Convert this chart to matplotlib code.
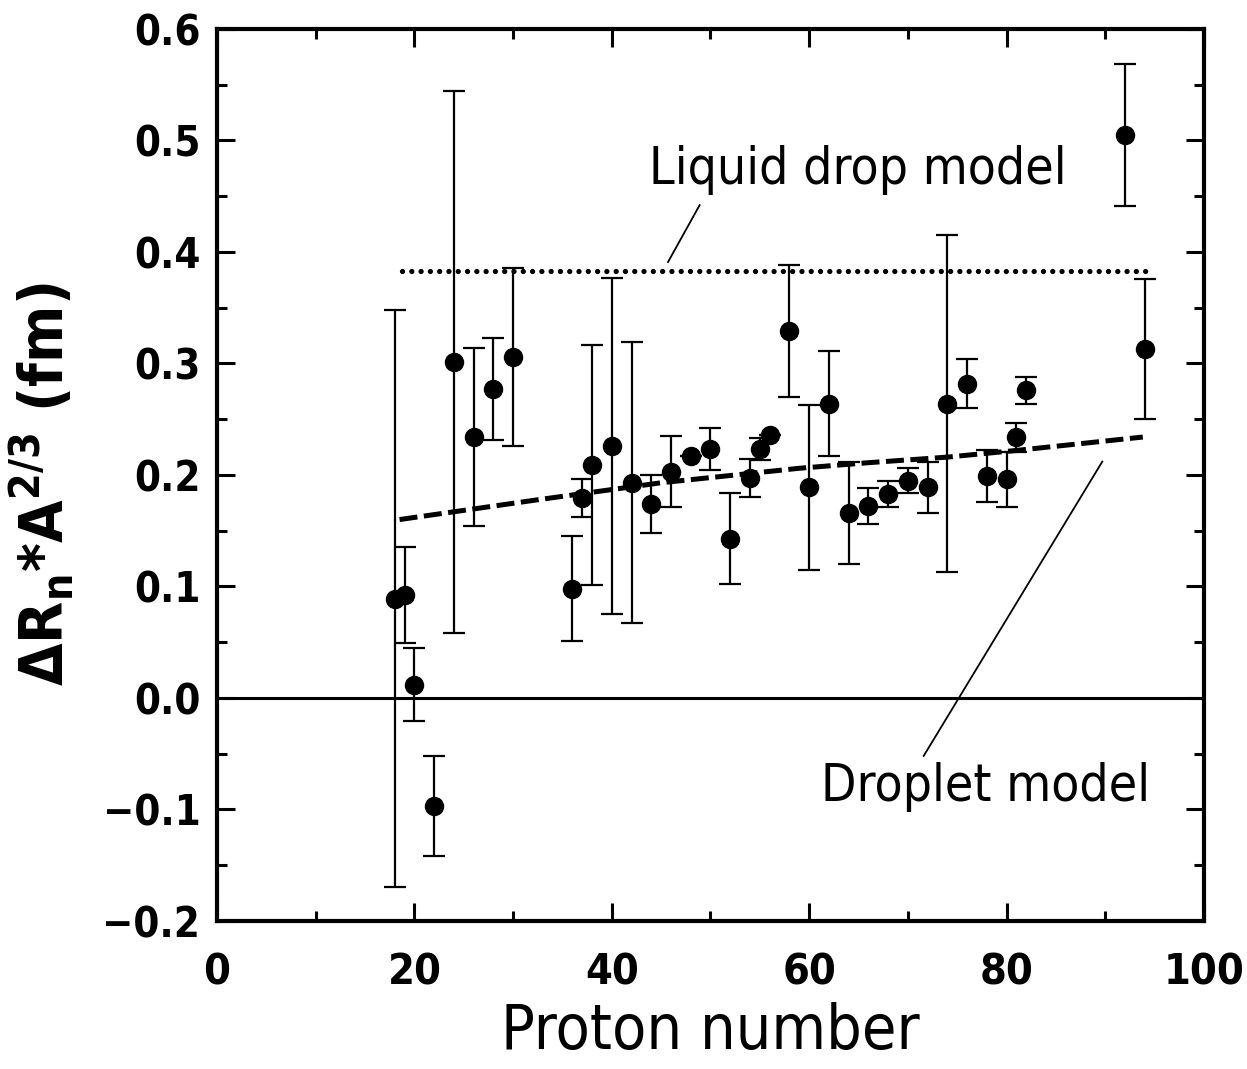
"""
Neutron skin term Delta R_n * A^(2/3) versus proton number
"""

import matplotlib

matplotlib.use("Agg")
import matplotlib.pyplot as plt
from matplotlib.ticker import MultipleLocator, FuncFormatter

plt.rcParams["font.family"] = ["DejaVu Sans"]
plt.rcParams["font.stretch"] = "condensed"
plt.rcParams["mathtext.default"] = "regular"

# measured points (proton number, value, error)
proton_number = [18, 19, 20, 22, 24, 26, 28, 30, 36, 37, 38, 40, 42, 44, 46, 48,
                 50, 52, 54, 55, 56, 58, 60, 62, 64, 66, 68, 70, 72, 74, 76, 78,
                 80, 81, 82, 92, 94]
delta_rn = [0.089, 0.092, 0.012, -0.097, 0.301, 0.234, 0.277, 0.306, 0.098, 0.179,
            0.209, 0.226, 0.193, 0.174, 0.203, 0.217, 0.223, 0.143, 0.197, 0.223,
            0.236, 0.329, 0.189, 0.264, 0.166, 0.172, 0.183, 0.195, 0.189, 0.264,
            0.282, 0.199, 0.196, 0.234, 0.276, 0.505, 0.313]
delta_err = [0.259, 0.043, 0.033, 0.045, 0.243, 0.080, 0.046, 0.080, 0.047, 0.017,
             0.108, 0.151, 0.126, 0.026, 0.032, 0.0, 0.019, 0.041, 0.017, 0.010,
             0.0, 0.059, 0.074, 0.047, 0.046, 0.016, 0.012, 0.011, 0.023, 0.151,
             0.022, 0.023, 0.025, 0.013, 0.012, 0.064, 0.063]

# model curves
liquid_z = [18.7, 94.1]
liquid_val = [0.383, 0.383]
droplet_z = [18.5, 32.7, 45, 59, 66, 74, 81, 93.8]
droplet_val = [0.160, 0.178, 0.193, 0.206, 0.211, 0.216, 0.222, 0.234]

fig = plt.figure(figsize=(12.47, 10.69), dpi=100)
axes = fig.add_axes([0.174, 0.1385, 0.7915, 0.8344])

# zero line
axes.axhline(0.0, color="black", lw=2.2, zorder=1)

# model lines
axes.plot(liquid_z, liquid_val, color="black", lw=3.8,
          ls=(0, (0.01, 1.75)), dash_capstyle="round")
axes.plot(droplet_z, droplet_val, color="black", lw=3.6,
          ls=(0, (3.6, 1.3)))

# data with error bars
axes.errorbar(proton_number, delta_rn, yerr=delta_err, fmt="o", color="black",
              ms=13, elinewidth=1.6, capsize=8, capthick=1.6, zorder=3)

# annotations
axes.text(64.9, 0.4735, "Liquid drop model", fontsize=37, ha="center", va="center")
axes.plot([48.9, 45.7], [0.442, 0.391], color="black", lw=1.3)
axes.text(77.9, -0.080, "Droplet model", fontsize=37, ha="center", va="center")
axes.plot([89.7, 71.6], [0.212, -0.052], color="black", lw=1.3)

axes.set_xlim(0, 100)
axes.set_ylim(-0.2, 0.6)
axes.xaxis.set_major_locator(MultipleLocator(20))
axes.xaxis.set_minor_locator(MultipleLocator(10))
axes.yaxis.set_major_locator(MultipleLocator(0.1))
axes.yaxis.set_minor_locator(MultipleLocator(0.05))
axes.yaxis.set_major_formatter(FuncFormatter(lambda v, p: f"{v:.1f}".replace("-", "\u2212")))

axes.tick_params(which="both", direction="in", top=True, right=True, width=2.2)
axes.tick_params(which="major", length=13)
axes.tick_params(which="minor", length=7)
axes.tick_params(axis="x", pad=22, labelsize=31)
axes.tick_params(axis="y", pad=12, labelsize=30)
for lab in axes.get_xticklabels() + axes.get_yticklabels():
    lab.set_fontweight("bold")

for spine in axes.spines.values():
    spine.set_linewidth(3)

axes.set_xlabel("Proton number", fontsize=45, labelpad=6)
axes.set_ylabel("ΔR$_{n}$*A$^{2/3}$ (fm)", fontsize=44, fontweight="bold")
axes.yaxis.set_label_coords(-0.142, 0.49)

plt.savefig("out.png", dpi=100)
